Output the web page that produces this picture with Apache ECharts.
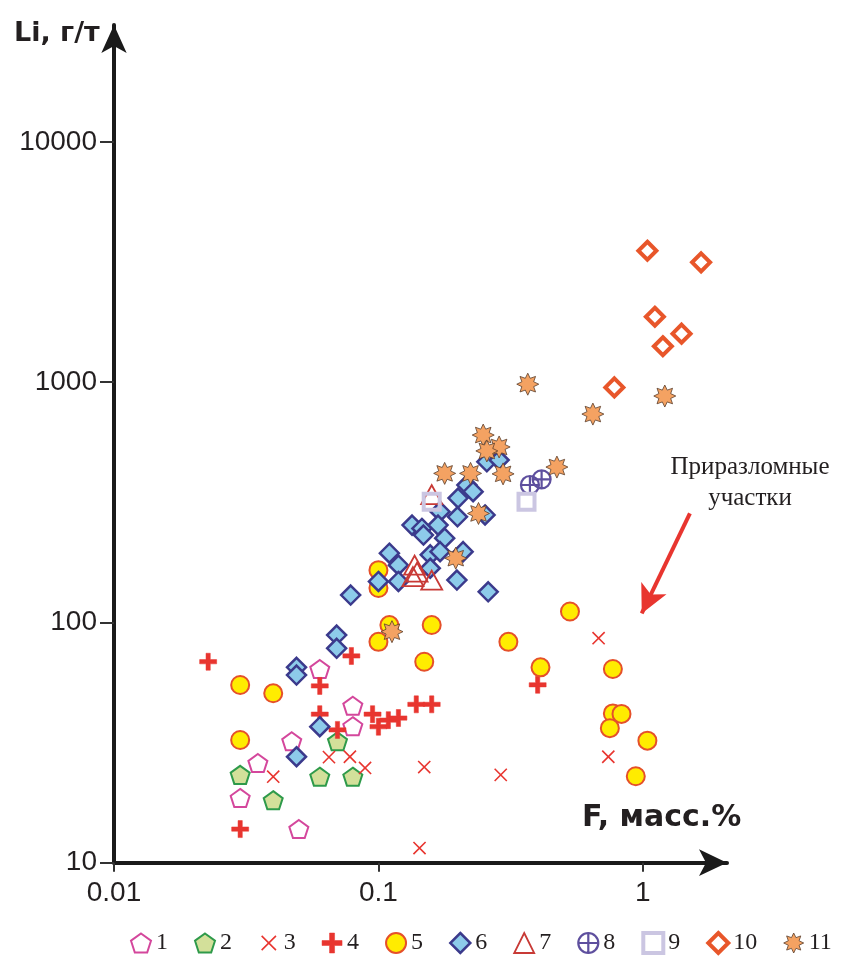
<!DOCTYPE html>
<html>
<head>
<meta charset="utf-8">
<script src="https://cdn.jsdelivr.net/npm/echarts@6/dist/echarts.min.js"></script>
<style>
html, body { margin: 0; padding: 0; background: #fff; }
#chart { width: 841px; height: 974px; }
</style>
</head>
<body>
<div id="chart"></div>
<script>
// F, масс.% / Li, г/т
var names = ['1', '2', '3', '4', '5', '6', '7', '8', '9', '10', '11'];
var xTicks = [0.01, 0.1, 1];
var yTicks = [10, 100, 1000, 10000];

var s1 = [[0.06, 64], [0.08, 45], [0.08, 37], [0.047, 32], [0.035, 26], [0.03, 18.6], [0.05, 13.8]];
var s2 = [[0.07, 32], [0.03, 23.2], [0.06, 22.8], [0.08, 22.8], [0.04, 18.2]];
var s3 = [[0.04, 22.8], [0.065, 27.5], [0.078, 27.6], [0.089, 24.8], [0.149, 25], [0.29, 23.2],
    [0.143, 11.5], [0.68, 86], [0.74, 27.6]];
var s4 = [[0.0227, 68.6], [0.06, 54.4], [0.079, 72.5], [0.06, 41.5], [0.07, 35.7], [0.095, 41.5],
    [0.1, 36.8], [0.109, 39.2], [0.119, 40], [0.139, 45.6], [0.159, 45.6], [0.40, 55], [0.03, 13.8]];
var s5 = [[0.1, 165], [0.1, 139], [0.11, 97.5], [0.159, 97.5], [0.1, 83], [0.31, 83], [0.149, 68.6],
    [0.41, 65], [0.03, 54.9], [0.04, 50.7], [0.03, 32.4], [0.53, 111], [0.77, 64], [0.77, 41.8],
    [0.83, 41.6], [0.75, 36.3], [1.04, 32.2], [0.94, 22.9]];
var s6 = [[0.257, 466], [0.286, 474], [0.216, 373], [0.228, 350], [0.20, 329], [0.253, 280],
    [0.199, 275], [0.171, 289], [0.134, 254], [0.146, 246], [0.168, 254], [0.148, 231], [0.178, 224],
    [0.11, 194], [0.119, 173], [0.157, 191], [0.171, 197], [0.209, 197], [0.1, 148], [0.119, 148],
    [0.198, 150], [0.26, 134], [0.0785, 130], [0.0695, 88.6], [0.0695, 78], [0.049, 65],
    [0.049, 60.4], [0.06, 36.8], [0.049, 27.6], [0.157, 168]];
var s7 = [[0.159, 340], [0.137, 173], [0.14, 162], [0.135, 155], [0.159, 150]];
var s8 = [[0.374, 373], [0.414, 394]];
var s9 = [[0.159, 318], [0.363, 318]];
var s10 = [[1.04, 3520], [1.66, 3150], [1.11, 1870], [1.40, 1590], [1.19, 1410], [0.78, 950]];
var s11 = [[0.367, 980], [0.647, 736], [1.21, 875], [0.473, 443], [0.249, 602], [0.286, 537],
    [0.257, 517], [0.296, 415], [0.178, 417], [0.223, 417], [0.239, 284], [0.196, 185], [0.1125, 91.5]];

// symbols
var pentagon = 'path://M0,-1L0.951,-0.309L0.588,0.809L-0.588,0.809L-0.951,-0.309Z';
// крестик с пустыми полями, чтобы в легенде он был мельче
var cross = 'path://M-1.4,-1.4M1.4,1.4M-1,-1L1,1M1,-1L-1,1';
var plus = 'path://M-0.25,-1L0.25,-1L0.25,-0.25L1,-0.25L1,0.25L0.25,0.25L0.25,1L-0.25,1L-0.25,0.25L-1,0.25L-1,-0.25L-0.25,-0.25Z';
var circlePlus = 'path://M-1,0A1,1 0 1,1 1,0A1,1 0 1,1 -1,0ZM-1,0L1,0M0,-1L0,1';
function starPath(n, r1, r2) {
    var p = [];
    for (var i = 0; i < n * 2; i++) {
        var a = Math.PI * i / n - Math.PI / 2;
        var r = i % 2 ? r2 : r1;
        p.push((r * Math.cos(a)).toFixed(3) + ',' + (r * Math.sin(a)).toFixed(3));
    }
    return 'path://M' + p.join('L') + 'Z';
}
var star = starPath(8, 1, 0.58);

function sc(name, data, symbol, size, color, border, bw) {
    return {
        name: name,
        type: 'scatter',
        data: data,
        symbol: symbol,
        symbolSize: size,
        symbolKeepAspect: true,
        itemStyle: { color: color, borderColor: border, borderWidth: bw, opacity: 1 },
        emphasis: { disabled: true }
    };
}

function fmt(v) {
    if (v >= 1) return String(Math.round(v));
    return String(+v.toPrecision(1));
}

var series = [
    sc('1', s1, pentagon, 19, '#ffffff', '#d4479c', 2),
    sc('2', s2, pentagon, 19, '#d3e09a', '#2e9a4a', 2),
    sc('3', s3, cross, 17, 'transparent', '#e8352f', 1.6),
    sc('4', s4, plus, 17, '#e8352f', '#e8352f', 0.5),
    sc('5', s5, 'circle', 18, '#ffec00', '#e5502a', 2),
    sc('6', s6, 'diamond', 19, '#8dcbea', '#3b3a8c', 2.5),
    sc('7', s7, 'triangle', [21, 19], 'transparent', '#c83a36', 1.8),
    sc('8', s8, circlePlus, 18, 'transparent', '#5e4f9e', 2.2),
    sc('9', s9, 'rect', 16, 'transparent', '#cbc6e2', 4),
    sc('10', s10, 'diamond', 18, '#ffffff', '#e8562a', 4),
    sc('11', s11, star, 22, '#f4a262', '#5a3d2b', 0.8)
];

// стрелка «Приразломные участки»
series[2].markLine = {
    silent: true,
    symbol: ['none', 'arrow'],
    symbolSize: [21, 28],
    label: { show: false },
    lineStyle: { color: '#e8352f', width: 4, type: 'solid' },
    data: [[{ coord: [1.506, 284.5] }, { coord: [0.99, 109] }]]
};

var axisFont = { fontSize: 28, fontFamily: 'Liberation Sans', color: '#231f20' };

var option = {
    animation: false,
    backgroundColor: '#ffffff',
    grid: { left: 114, right: 114, top: 25, bottom: 111.3, outerBoundsMode: 'none' },
    xAxis: {
        type: 'log',
        logBase: 10,
        min: 0.01,
        max: 2.08,
        axisLine: {
            show: true,
            onZero: false,
            symbol: ['none', 'arrow'],
            symbolSize: [20, 28],
            lineStyle: { color: '#1a1a1a', width: 4 }
        },
        axisTick: { show: true, length: 9, customValues: xTicks, lineStyle: { color: '#333', width: 2 } },
        axisLabel: Object.assign({ margin: 17, customValues: xTicks, formatter: fmt }, axisFont),
        splitLine: { show: false },
        minorTick: { show: false }
    },
    yAxis: {
        type: 'log',
        logBase: 10,
        min: 10,
        max: 30620,
        axisLine: {
            show: true,
            onZero: false,
            symbol: ['none', 'arrow'],
            symbolSize: [19, 28],
            lineStyle: { color: '#1a1a1a', width: 4 }
        },
        axisTick: { show: true, length: 14, customValues: yTicks, lineStyle: { color: '#333', width: 2 } },
        axisLabel: Object.assign({ margin: 17, customValues: yTicks, formatter: fmt }, axisFont),
        splitLine: { show: false },
        minorTick: { show: false }
    },
    legend: {
        data: names,
        left: 130,
        top: 931,
        width: 711,
        padding: 0,
        itemWidth: 20,
        itemHeight: 20,
        itemGap: 26,
        selectedMode: false,
        itemStyle: { borderWidth: 'inherit' },
        textStyle: { fontFamily: 'Liberation Serif', fontSize: 24, color: '#231f20' }
    },
    graphic: [
        {
            type: 'text', left: 14, top: 20,
            style: { text: 'Li, г/т', font: 'bold 27px "DejaVu Sans"', fill: '#231f20' }
        },
        {
            type: 'text', left: 582, top: 803,
            style: { text: 'F, масс.%', font: 'bold 30px "DejaVu Sans"', fill: '#231f20' }
        },
        {
            type: 'text', x: 750, y: 452,
            style: {
                text: 'Приразломные\nучастки', align: 'center', verticalAlign: 'top',
                font: '25px "Liberation Serif"', lineHeight: 31, fill: '#231f20'
            }
        }
    ],
    series: series
};

var myChart = echarts.init(document.getElementById('chart'));
myChart.setOption(option);
</script>
</body>
</html>
